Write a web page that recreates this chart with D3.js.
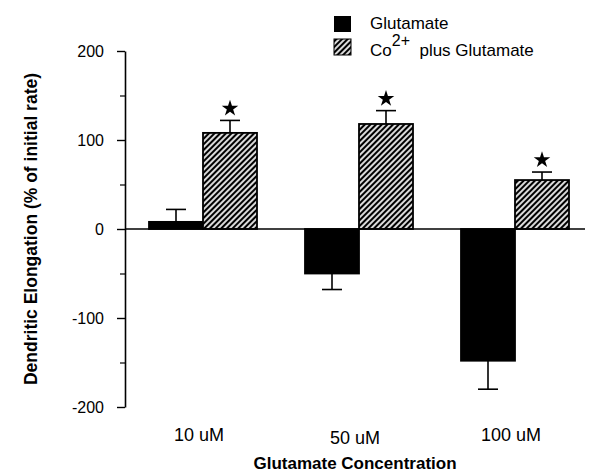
<!DOCTYPE html>
<html>
<head>
<meta charset="utf-8">
<script src="https://cdn.jsdelivr.net/npm/d3@7"></script>
<style>
  body { margin: 0; background: #fff; }
  text { font-family: "Liberation Sans", Arial, sans-serif; fill: #000; }
</style>
</head>
<body>
<div id="chart"></div>
<script>
// data
const categories = ["10 uM", "50 uM", "100 uM"];
const seriesNames = ["Glutamate", "Co2+ plus Glutamate"];
const glutamate = [8, -50, -148];
const glutamateErr = [14, 18, 32];
const coGlutamate = [108, 118, 55];
const coGlutamateErr = [14, 15, 9];
const significant = [true, true, true];
const yTicks = [-200, -100, 0, 100, 200];
const yMinorTicks = [-150, -50, 50, 150];

const width = 589, height = 473;
const margin = { top: 51, right: 4, bottom: 66, left: 125 };

const svg = d3.select("#chart")
  .append("svg")
  .attr("width", width)
  .attr("height", height);

// diagonal hatch for the Co2+ bars
const defs = svg.append("defs");
const pat = defs.append("pattern")
  .attr("id", "hatch")
  .attr("patternUnits", "userSpaceOnUse")
  .attr("width", 4)
  .attr("height", 4)
  .attr("patternTransform", "rotate(45)");
pat.append("rect").attr("width", 4).attr("height", 4).attr("fill", "#fff");
pat.append("line")
  .attr("x1", 2).attr("y1", 0).attr("x2", 2).attr("y2", 4)
  .attr("stroke", "#000").attr("stroke-width", 2.3);

const y = d3.scaleLinear()
  .domain([-200, 200])
  .range([407, 51]);

// group centres
const x = d3.scalePoint()
  .domain(categories)
  .range([203, 515]);
const barW = 54;

// y axis
const yAxis = svg.append("g")
  .attr("transform", `translate(${margin.left},0)`)
  .call(d3.axisLeft(y).tickValues(yTicks).tickSize(8).tickPadding(13)
    .tickSizeOuter(0).tickFormat(d => String(d)));
yAxis.select(".domain").attr("stroke-width", 1.6);
yAxis.selectAll(".tick line").attr("stroke-width", 1.4);
yAxis.selectAll("text").style("font-size", "16px");

svg.append("g")
  .attr("transform", `translate(${margin.left},0)`)
  .call(d3.axisLeft(y).tickValues(yMinorTicks).tickSize(5).tickFormat("").tickSizeOuter(0))
  .call(g => g.select(".domain").remove())
  .selectAll(".tick line").attr("stroke-width", 1.2);

// bars
const rows = categories.map((c, i) => ({ c, i }));

const drawBars = (vals, offset, fill) => {
  svg.append("g").selectAll("rect")
    .data(rows)
    .join("rect")
    .attr("x", d => x(d.c) + offset)
    .attr("y", d => y(Math.max(0, vals[d.i])))
    .attr("width", barW)
    .attr("height", d => Math.abs(y(vals[d.i]) - y(0)))
    .attr("fill", fill)
    .attr("stroke", "#000")
    .attr("stroke-width", 1.8);
};
drawBars(glutamate, -barW, "#000");
drawBars(coGlutamate, 0, "url(#hatch)");

// error bars
const drawErr = (vals, errs, offset) => {
  const g = svg.append("g").attr("stroke", "#000").attr("stroke-width", 1.6);
  rows.forEach(d => {
    const cx = x(d.c) + offset;
    const v = vals[d.i];
    const e = v >= 0 ? v + errs[d.i] : v - errs[d.i];
    g.append("line").attr("x1", cx).attr("x2", cx).attr("y1", y(v)).attr("y2", y(e));
    g.append("line").attr("x1", cx - 10).attr("x2", cx + 10).attr("y1", y(e)).attr("y2", y(e));
  });
};
drawErr(glutamate, glutamateErr, -barW / 2);
drawErr(coGlutamate, coGlutamateErr, barW / 2);

// stars
svg.append("g").selectAll("path")
  .data(rows.filter(d => significant[d.i]))
  .join("path")
  .attr("d", d3.symbol(d3.symbolStar, 85))
  .attr("transform", d => `translate(${x(d.c) + barW / 2},${y(coGlutamate[d.i] + coGlutamateErr[d.i]) - 12})`)
  .attr("fill", "#000");

// zero line
svg.append("line")
  .attr("x1", margin.left).attr("x2", width - margin.right)
  .attr("y1", y(0)).attr("y2", y(0))
  .attr("stroke", "#000").attr("stroke-width", 1.7);

// category labels
svg.append("g").selectAll("text")
  .data(categories)
  .join("text")
  .attr("x", d => x(d) - 4)
  .attr("y", (d, i) => i === 1 ? 444 : 441)
  .attr("text-anchor", "middle")
  .style("font-size", "18px")
  .text(d => d);

// axis titles
svg.append("text")
  .attr("x", 355).attr("y", 469)
  .attr("text-anchor", "middle")
  .style("font-size", "17px").style("font-weight", "bold")
  .text("Glutamate Concentration");

svg.append("text")
  .attr("transform", `translate(37,${y(0)}) rotate(-90)`)
  .attr("text-anchor", "middle")
  .style("font-size", "17.5px").style("font-weight", "bold")
  .text("Dendritic Elongation (% of initial rate)");

// legend
const legend = svg.append("g").attr("transform", "translate(334,16)");
legend.append("rect").attr("width", 17).attr("height", 16).attr("fill", "#000");
legend.append("rect").attr("y", 23).attr("width", 17).attr("height", 16)
  .attr("fill", "url(#hatch)").attr("stroke", "#000").attr("stroke-width", 1);
legend.append("text").attr("x", 36).attr("y", 13).style("font-size", "17px").text(seriesNames[0]);
const t2 = legend.append("text").attr("x", 36).attr("y", 40).style("font-size", "17px");
t2.append("tspan").text("Co");
t2.append("tspan").attr("dy", -10).style("font-size", "16px").text("2+");
t2.append("tspan").attr("dy", 10).text("\u00a0 plus Glutamate");
</script>
</body>
</html>
